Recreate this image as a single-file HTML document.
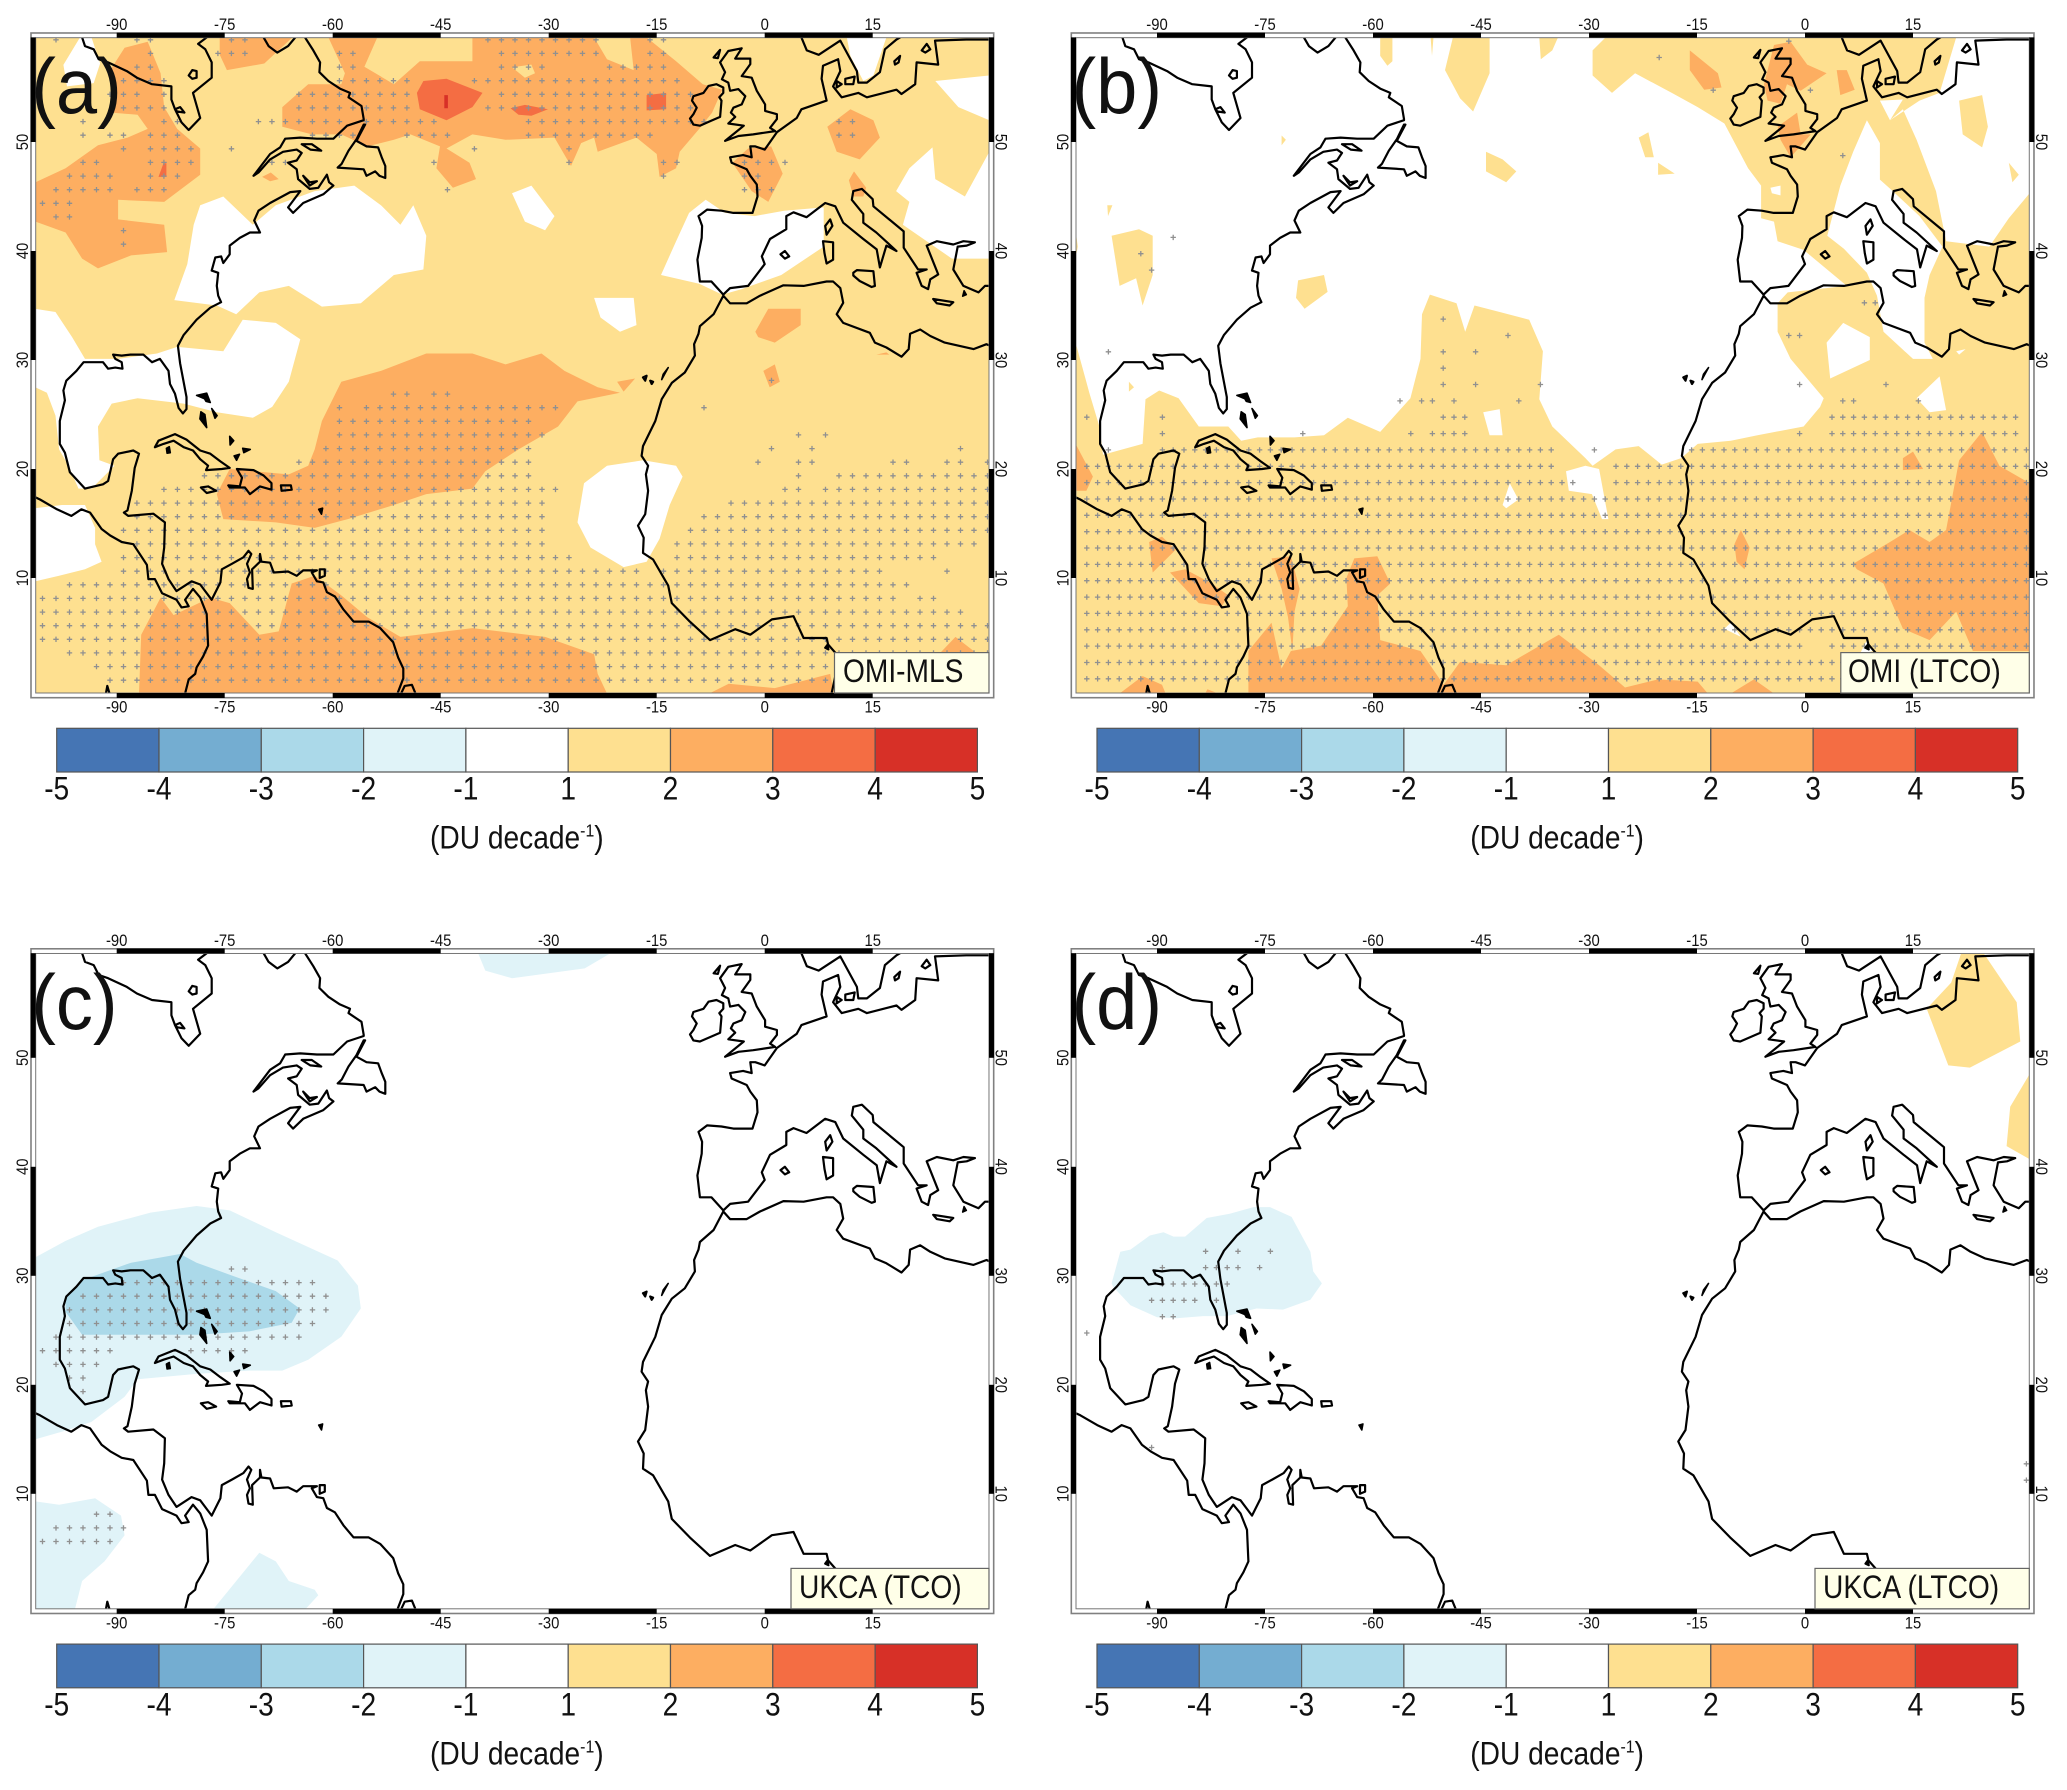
<!DOCTYPE html>
<html lang="en">
<head>
<meta charset="utf-8">
<title>Tropospheric ozone trends maps</title>
<style>
html,body{margin:0;padding:0;background:#fff;}
svg{display:block;}
text{font-family:"Liberation Sans",sans-serif;}
</style>
</head>
<body>
<svg id="figure" xmlns="http://www.w3.org/2000/svg" width="2067" height="1790" viewBox="0 0 2067 1790"><rect width="2067" height="1790" fill="#fff"/></svg>
<script>
/* ---------- axis + colourbar data ---------- */
const lonTicks = [-90,-75,-60,-45,-30,-15,0,15];
const latTicks = [10,20,30,40,50];
const lonBands = [[-90,-75],[-60,-45],[-30,-15],[0,15]];
const latBands = [[59.6,50],[40,30],[20,10]];
const cbLevels = [-5,-4,-3,-2,-1,1,2,3,4,5];
const cbColors = ['#4575b4','#74add1','#abd9e9','#e0f3f8','#ffffff','#fee090','#fdae61','#f46d43','#d73027'];
const LON_MIN=-101.25, LON_MAX=31.15, LAT_MIN=-0.55, LAT_MAX=59.57;

/* ---------- coastline, lon/lat pairs ---------- */
const coastOpen = [
[-94.8,59.6,-94.4,58.8,-93.2,58.5,-92.5,57.6,-91.2,57.3,-88.6,56.5,-87.2,55.9,-85.1,55.3,-82.4,55.1,-82.4,53.9,-81.9,53,-81,51.8,-80,51.1,-78.4,52.2,-79.4,54.5,-76.8,55.9,-76.8,57.3,-77.7,58.5,-78.7,59,-77.5,59.6],
[-69.6,59.6,-68.9,58.8,-67.7,58.2,-66.2,58.8,-65.2,59.6],
[-63.85,59.6,-62.7,58.4,-61.75,57.3,-61.85,56.4,-60.6,55.6,-59,54.9,-57.6,54.5,-57.8,54.1,-56,53.3,-55.7,52.1,-55.7,52,-58,51.5,-59.9,50.3,-62.2,50.3,-64.5,50.4,-66.6,50.3,-67.3,49.5,-68.7,48.9,-71,46.9,-70.3,47.2,-68.7,48.4,-66.9,49.1,-65,49.3,-64.3,49,-65,48.3,-66.2,48.1,-65,47.5,-64.8,46.6,-63.2,45.7,-62,45.8,-60.8,47,-60.5,46.3,-59.9,46,-61.3,45.2,-64.1,44.4,-65.5,43.5,-66.2,44,-64.5,45.5,-65.9,45.4,-68.7,44.4,-70.3,43.7,-70.9,42.8,-70.1,41.7,-71.5,41.7,-72.9,41.2,-74.3,40.5,-74.3,39.7,-75.2,38.9,-75.5,39.5,-76.3,39.4,-76.8,38.2,-75.9,38,-76.1,36.8,-75.9,35.9,-75.5,35.3,-77,34.8,-78.9,33.7,-80.7,32.3,-81.5,31.3,-81.2,29.7,-80.3,26.6,-80.3,25.5,-80.8,25.1,-81.4,25.6,-81.9,26.9,-82.6,27.8,-82.8,29,-84,30.1,-85.1,29.8,-86.3,30.5,-88.1,30.5,-89.3,30.4,-90.5,30.5,-90.2,30.1,-89.3,29.8,-89.2,29.2,-90.2,29.3,-91.2,29.2,-91.9,29.8,-94.6,29.8,-95.6,29,-97,28.1,-97.4,27.2,-97.2,26.3,-97.9,24.4,-97.9,22.3,-97.2,21.5,-96.5,19.7,-94.4,18.2,-91.9,18.6,-91.2,18.9,-90.5,20.9,-89.8,21.4,-87.7,21.7,-86.9,21.4,-87.5,20.1,-87.9,18,-88.5,16.2,-89,16,-88.4,15.7,-84.9,15.9,-83.3,15.1,-83.4,12.8,-83.7,11.3,-82.8,9.9,-81.7,8.8,-79.6,9.7,-78.4,9.4,-76.8,8,-75.6,9.6,-75.4,10.8,-74,11.3,-72.4,11.9,-71.7,12.5,-71.3,12.2,-71.9,11.3,-71.5,10.5,-71.9,9.9,-71.7,9.1,-71.1,9,-71.2,10.8,-70.1,11.5,-70.1,12.2,-69.9,11.5,-68.7,11.4,-68.2,10.5,-66.2,10.6,-65,10.2,-64.1,10.7,-62.2,10.7,-62.9,10.5,-62.2,9.7,-61.3,9.6,-60.8,8.7,-59.7,8.3,-58.5,7.1,-57.1,6,-55,6,-53.4,5.4,-51.6,4.1,-50.9,2.7,-50.2,1.7,-50.2,0.8,-51,-0.6],
[-101.3,17.4,-100.65,17.2,-98.3,16.3,-96.3,15.7,-94.9,16.3,-93.7,16,-92.1,14.5,-90.9,13.9,-89.3,13.3,-87.7,13.1,-85.8,11.2,-85.6,9.9,-84.7,9.9,-83.7,8.6,-81.7,8,-81,7.3,-80,7.4,-80.5,8,-79.4,9,-78.4,8.2,-77.5,6.7,-77.3,3.8,-78,2.8,-78.9,1.8,-79.1,1.2,-80,0.7,-80.5,-0.6],
[-91.5,-0.6,-91.3,0.1,-91,-0.6],
[-50.5,-0.6,-50,0.1,-49,0.2,-48.5,-0.6],
[5.1,59.6,5.85,58.4,7.5,58,10.5,59.3,12.8,56.5,13,55.45,14.2,55.45,16,56.4,16.7,58.5,18.3,59.4,18.8,59.6],
[-4.8,48.6,-4.6,48.1,-2.5,47.5,-2,46.9,-1.1,46.1,-1,45,-1.7,43.5,-4.35,43.5,-6,43.7,-8,43.8,-9.2,43.2,-8.7,42.3,-8.75,41.2,-9.35,39.2,-9,37.2,-7.4,37.2,-5.75,36,-4.8,36.6,-2.3,36.8,0,38.8,-0.4,39.5,0.74,41.1,3,42,3,43.2,4,43.55,5.8,43.1,8.4,44.4,9.8,44.1,10.9,42.6,13.7,41.1,15.55,40.15,16,38.5,16.9,40.5,18.3,40,15.5,41.7,13.7,42.6,13.7,43.4,12.1,44.7,12.3,45.5,13.5,45.7,15,44.75,15.1,44.1,19.3,41.8,19.3,40.3,21.3,38.3,22.5,38.3,21.1,38,21.8,36.8,22.7,36.5,23,37.4,24.1,37.85,22.5,40.5,23.9,40.9,26.2,40.6,27.6,40.9,29.2,40.8,28.05,40.5,26.8,40.4,26.2,38.3,27.6,36.8,29.7,36.2,30.6,36.8,31.3,36.8],
[-4.8,48.6,-3,48.8,-1.8,48.6,-2,49.6,-1.3,49.6,0,49.3,1.7,50.9,4.45,52.2,5.1,53,8.6,53.8,7.9,55.8,8.1,57,10.2,57.6,10.5,56.5,9.5,55.1,10.7,54.1,13,54.5,14.2,54.1,18.3,54.8,19,54.4,20.9,55.3,21.1,57.3,24.1,57.1,23.65,59.3,28,59.4,31.2,59.4],
[-5.75,35.9,-4.8,35.2,-2.5,35.2,-0.65,35.9,2.6,36.85,5.4,36.8,8.6,37.2,9.5,37.2,10.5,36.6,10.9,35.25,10,34.2,10.9,33.4,14.6,32.5,15.3,31.6,16.9,31.15,19,30.3,20,31,20.2,32.4,21.6,32.8,23,32.2,25,31.6,29,31,30.8,31.45,31.3,31.3],
[-5.75,35.9,-7.1,34.2,-9,33.1,-9.2,32.4,-9.8,31.45,-9.7,30.4,-11.1,28.85,-12.9,27.9,-14.3,26.4,-15.2,24.4,-16.9,22.1,-17.1,21.2,-16.2,20.3,-16.5,19.5,-16.2,18,-16.6,15.85,-17.6,14.8,-16.8,13.7,-16.9,12.3,-15.5,11.7,-13.4,9.3,-12.9,7.7,-10.4,6,-7.6,4.3,-4.1,5.3,-2,4.8,1,6.2,4,6.5,5.4,4.5,8.6,4.5,8.8,3.9,10,3,9.9,2,9.8,1,9.3,-0.55]
];
const coastRings = [
[-55.7,51.6,-56.7,50.25,-57.8,49.2,-58.75,48,-59.3,47.65,-55.7,47.5,-55.3,46.9,-54.1,47.3,-53.5,46.9,-52.7,46.7,-52.7,47.8,-53.2,48.6,-53.7,49.5,-55.3,49.6,-56.7,50.1,-55.5,51.6],
[-64.3,49.8,-62.9,49.8,-61.6,49.2,-63.1,49.3],
[-64.1,46.9,-63.2,46.3,-62.2,46.4,-63.2,46],
[-80,56.1,-79.5,56.6,-78.9,56.5,-78.9,55.9,-79.5,55.8],
[-81.9,53,-81.2,53.2,-80.6,52.7,-81.6,52.8],
[-84.7,22,-84.2,22.6,-81.9,23.2,-80.3,22.7,-78.4,21.7,-77,21.4,-75.6,20.7,-74.3,20.1,-75.4,20,-77.6,19.9,-77.3,20.3,-78.4,20.9,-79.4,21.7,-80.7,22,-82.1,22.6,-83.5,22.3],
[-73.3,20,-71,19.9,-69.6,19.4,-68.5,18.7,-68.5,18.1,-70.1,18.4,-71.5,17.7,-72.2,18.3,-74.3,18.3,-74.5,18.5,-72.9,18.4,-72.6,19.2],
[-78.3,18.3,-77.3,18.4,-76.2,18,-77.5,17.8],
[-67.2,18.5,-65.8,18.5,-65.7,18.1,-67.1,18],
[-61.8,10.8,-61.1,10.8,-61.1,10.2,-61.8,10],
[-10.37,52.15,-9.9,51.6,-9,51.5,-7.6,51.9,-6.2,52.3,-6,53.8,-6.3,54.1,-5.75,54.5,-5.75,55,-6.7,55.3,-7.8,55.15,-8.5,54.5,-9.9,54.2,-10.1,53.8,-9.45,53.15,-9.9,52.55],
[-5.5,50.1,-2.9,51.5,-5.05,51.7,-4.1,52.3,-4.7,52.7,-4.35,53.15,-3.2,53.45,-2.7,54.2,-3.65,54.85,-4.8,54.7,-5.05,55.45,-5.95,55.75,-5.5,56.4,-6.2,57.3,-5.05,58.35,-3.2,58.6,-4.1,57.65,-2,57.65,-2,57.15,-3.2,56.05,-1.8,55.9,-1.1,54.7,0.05,53.45,0.05,52.85,1.7,52.55,1.7,52.1,0.75,51.3,1.45,51,-1.6,50.7,-3.65,50.55],
[-7.1,57.75,-6.2,58.45,-6.5,57.7],
[10,55.6,10.7,55.3,10,55],
[11.2,55.8,12.5,56,12.3,55.3,11.2,55.3],
[18,57.4,18.8,57.9,18.6,57.3,18.1,57.1],
[21.8,58.4,22.5,59,23,58.5,22.3,58.2],
[9.1,42.9,9.4,42.3,8.6,41.5,8.4,42.3],
[8.1,40.9,9.5,40.8,9.5,39.2,8.6,38.85,8.3,39.8],
[12.3,38,12.8,38.25,15.1,38.15,15.3,36.8,14.85,36.7,13.2,37.25,12.3,37.75],
[2.2,39.7,2.8,40,3.4,39.5,2.8,39.3],
[23.4,35.6,26.2,35.3,25.7,35,23.9,35.2],
[8.4,3.6,8.7,3.85,8.85,3.45],
[-16.9,28.4,-16.4,28.55,-16.6,28.1],
[-15.9,28.1,-15.5,28,-15.7,27.8]
];
const coastBlobs = [
[-83.1,21.9,-82.7,22.05,-82.55,21.5,-83,21.45],
[-61.95,16.3,-61.4,16.4,-61.55,15.85],
[-78.9,26.75,-77.5,26.95,-77,26.1,-77.6,26.2,-77.8,26.45],
[-78.3,25.25,-77.75,25,-77.5,23.8,-78.45,24.6],
[-76.8,25.55,-76.05,24.9,-76.35,24.65],
[-74.3,23,-73.75,22.6,-74.25,22.2],
[-72.5,21.9,-71.45,21.8,-72.35,21.5],
[-73.7,21.2,-72.95,21.35,-73.35,20.8],
[27.7,36.35,28,36,27.5,35.85],
[-14.3,28.2,-13.4,29.3,-14.1,28.7]
];

/* ---------- panel (a) OMI-MLS contour rings, lon/lat pairs ---------- */
const aWhite = [
[-97.4,57.07,-95.1,59.6,-93.5,59.6,-92.3,57.2,-93.2,55.4,-96.9,55.1],
[-79.3,42.4,-78.4,44.2,-75.2,45,-71.1,42.4,-67.9,44.2,-62.5,45.5,-57,46,-53.3,44.2,-50.6,42.4,-48.8,44.2,-47,41.4,-47.4,38.3,-51.5,37.8,-56.1,35.2,-61.5,34.9,-66.1,36.8,-70.2,36.2,-73.4,34.2,-76.1,35,-82,35.5,-80.2,38.8],
[-101.3,34.7,-98.5,34.4,-96.2,32.1,-94.4,30.1,-89.8,30.1,-84.4,30.6,-81.6,31.2,-75.2,30.8,-72.5,33.7,-67.9,33.4,-64.5,31.9,-66.1,28,-68.4,25.7,-71.1,24.7,-76.1,25.2,-80.7,26,-87.1,26.5,-90.7,26,-92.6,23.9,-92.4,20.8,-90.3,20.3,-93.5,18.2,-95.3,18.2,-96.7,20.3,-98,21.8,-98.5,24.9,-99.7,27,-101.3,27.5],
[-101.3,16.4,-97.6,16.7,-94.4,16.7,-93,14.6,-93,13.1,-92.1,11.5,-94.4,10.8,-98,10.2,-101.3,9.7],
[-35.1,45.3,-32.4,46,-29.2,43.2,-30.5,41.9,-33.3,42.7],
[-23.7,35.7,-18.2,35.7,-17.8,33.2,-20.1,32.6,-22.8,33.9],
[-25.1,18.7,-21.9,20.3,-16.9,20.8,-12.3,20.3,-11.4,19.3,-13.2,16.7,-14.6,13.6,-16.4,11.5,-19.6,11,-24.2,12.8,-26,15.1],
[-14.4,37.8,-12.3,40.9,-10.5,43.5,-8.2,44.7,-5.5,43.5,-1.4,43.2,2.7,43.7,8.2,44,8.2,40.4,2.3,37.8,-3.2,36.5,-5.9,36,-9.1,37],
[18.25,45.5,20.1,47.6,23.3,49.5,23.7,46.6,27.8,45,31.2,49.1,31.2,39.3,26,39.3,21.4,41.4,19.2,42.4,20.1,44.5],
[23.7,55.6,31.2,56.1,31.2,52,26.9,53.2],
[11.4,59.6,16.9,59.6,15.1,56.1,13.7,55.6,11.9,57.9]
];
const aOrange = [
[-88.9,58.65,-85.7,59.2,-83.9,56.3,-83.4,53.2,-81.6,51.2,-78.4,49.4,-78.4,47,-83.4,44.5,-89.8,44.7,-89.8,42.9,-83.4,42.4,-83,39.9,-88,39.6,-92.6,38.4,-94.8,39.3,-97.1,41.7,-101.3,42.7,-101.3,46.3,-97.1,47.6,-92.6,49.7,-88.5,50.4,-85.7,51.2,-87.1,52.5,-90.7,52.7,-90.7,56.8],
[-75.7,59.6,-65.6,59.6,-69.5,57.2,-74.7,56.6,-75.7,58],
[-60.6,59.6,-58.3,56.3,-58.8,55.3,-63.4,55.3,-67,53.2,-67,51.4,-62.9,50.7,-58.8,50.7,-55.2,49.6,-51.5,50.2,-49.2,50.7,-45.1,49.6,-45.6,47.6,-43.3,45.8,-40.1,46.6,-41,48.1,-44.2,49.4,-40.6,50.7,-36,50.2,-29.2,50.4,-26.9,47.8,-25.5,49.9,-23.7,50.4,-23.2,49.1,-17.8,50.4,-15,48.9,-14.6,46.8,-12.3,47.6,-11.8,49.1,-9.1,51.2,-7.3,52.7,-5.9,54.8,-8.6,55.3,-12.3,57.4,-16.4,59.6],
[-4.5,48.1,-2.3,49.4,0.9,49.6,2.5,47.1,0.5,44.5,-1.8,45.5],
[8.7,51.4,11.9,53,15.1,52,16,50.4,13.2,48.4,10,49.1],
[11.7,46.5,12.4,47.3,14.1,45.8,13.7,45,12.3,45],
[-1.3,32.6,0.5,34.7,5,34.7,5,33.2,1.4,31.6,-0.9,32.1],
[-0.2,29,1.4,29.6,2.1,28,0.7,27.5],
[-62.5,21.8,-61.5,24.4,-58.8,28,-53.3,29,-47,30.6,-40.6,30.6,-36,29.6,-31,30.6,-27.8,29,-23.2,27.5,-20.1,27,-26,26.2,-28.7,23.9,-34.2,21.8,-38.8,19.8,-40.6,18.2,-47,17.7,-51.5,16.7,-57.9,15.4,-62.5,14.6,-67.9,15.1,-75.2,15.4,-76.1,17.7,-74.3,20,-66.1,19.5,-63.4,20.3],
[-20.5,28,-18,28.3,-19.6,27.1],
[-86.9,-0.6,-86.6,4.8,-83.9,8.2,-82.1,6.6,-77,8.2,-74.3,7.7,-70.2,4.8,-67.5,5.1,-65.7,9.5,-62.5,10.2,-58.8,8.4,-55.2,6.4,-50.6,4.6,-40.6,5.4,-30.5,4.6,-23.7,3,-23.2,1.2,-21.9,-0.6],
[-7.7,-0.6,-5,0.3,1.4,-0.1,9.1,1.2,9.6,-0.6],
[24.2,3,26.5,4.6,29.6,3],
[15.5,30.5,16.9,30.7,17.3,30.5],
[-69.8,46.8,-68.6,47.2,-67.5,46.6,-68.7,46.4]
];
const aYellowPatch = [
[-53.8,59.6,-55.6,56.9,-51.5,55.3,-47.9,57.4,-40.6,57.4,-40.6,59.6],
[-23.7,59.6,-21.9,57.6,-18.2,56.6,-18.7,59.6],
[-35.1,56.85,-32.4,57.1,-31.9,56.3,-33.3,55.9]
];
const aRed = [
[-48.3,54.5,-47.4,55.6,-44.2,55.8,-39.2,54.5,-40.6,53.2,-44.2,52,-47.9,53],
[-35.3,53.1,-33.3,53.4,-30.1,53,-32.4,52.4,-34.2,52.5],
[-16.4,54.3,-13.7,54.5,-13.7,53,-16.4,52.9],
[-84.2,46.8,-83.5,48.05,-83.1,48.05,-83.1,46.8]
];
const aDarkRed = [[-44.5,54.3,-44,54.3,-44,53.1,-44.5,53.1]];

/* ---------- panel (b) OMI LTCO contour rings ---------- */
const bYellow = [
[-101.3,31.6,-99.4,27,-98,23.9,-97.5,21.3,-92,22.3,-91.6,26.4,-89.7,27.2,-87,26.5,-84.2,23.9,-80.1,23.9,-78.3,22.6,-76,22.9,-70.9,22.9,-66.8,23.1,-63.5,24.7,-59,23.4,-54.8,26.5,-53.4,30.1,-53.2,34.2,-52.1,36,-48.4,35.2,-47.2,32.6,-45.9,35,-42.4,34.4,-38.3,33.7,-36.4,30.8,-36.9,26.4,-35.1,23.9,-30.5,21,-29.5,20.3,-26.3,21.8,-23.1,22.1,-19.9,20.4,-17.2,21,-14.9,22.3,-10.3,22.6,-6.6,23.1,-0.2,23.9,2.1,25.7,2.6,26.5,-2,30.1,-3.8,32.6,-3.8,35.2,-2.4,36.2,5.8,36.8,-0.2,40.1,-3.8,40.9,-4.3,42.7,-6.1,43,-6.1,46,-7.9,47.6,-11.2,51.7,-14.9,53.2,-18.5,54.5,-23.6,56.3,-26.8,54.5,-29.5,56.1,-29.5,58.4,-27.7,59.6,31.2,59.6,31.2,-0.6,-101.3,-0.6],
[-59,59.6,-57.3,59.6,-57.3,57.4,-58,57,-59,57.9],
[-48.9,59.6,-43.8,59.6,-43.8,56.3,-46.1,52.8,-47.9,54,-50,56.6],
[-36.9,59.6,-34.3,59.6,-35.1,58.4,-36.7,57.6],
[-52,59.6,-51.6,59.6,-51.8,57.9],
[-44.3,49.1,-42,48.4,-40.1,47.3,-41.5,46.3,-44.3,47.3],
[-23.1,50.4,-21.75,50.9,-21,48.6,-22.2,48.6],
[-20.4,48.1,-18.1,47.1,-20.4,47],
[-72.7,50.6,-72.1,50.2,-72.7,49.7],
[-96.9,44.2,-96.2,44.2,-96.8,43.2],
[-96.3,41.4,-92.5,42,-90.6,41.4,-90.6,37.8,-92,35,-92.9,37.5,-95.2,36.8],
[-70.4,37.3,-66.8,37.8,-66.3,36.25,-69.5,34.7,-70.7,35.7],
[-93.9,28,-93.2,27.5,-93.9,27.1],
[-101.3,41.9,-101,40.4,-101.3,39.3]
];
const bWhite = [
[8.6,52,10.4,49.9,10.4,46.55,12.2,45.5,15.9,43.2,19.1,40.4,17.3,37.8,16.6,35.7,16.6,31.6,17.75,30.1,15,30.1,10.9,32.6,10,35.9,8.6,38,5.4,40.2,3.1,41.4,4.9,46,6.7,49.1],
[15.9,53.8,18.7,54.5,21,59.6,31.2,59.6,31.2,45.3,28.3,43,25.6,40.4,19.6,40.9,18.2,45.5,15.5,50.2,13.6,53,11.8,52],
[10.4,53.8,13.6,53.9,11.8,52],
[-44.7,25.2,-42.4,25.5,-42,23.1,-43.8,23.1],
[-33.2,19.8,-30.5,20.3,-28.6,20,-27.3,15.4,-28.2,15.4,-29.6,17.7,-32.8,18],
[-42,16.7,-41,18.7,-39.8,17.2,-41.5,16.4],
[-4.8,45.8,-3.4,46,-3.4,45.1,-4.6,45.3],
[3,31.6,5.3,33.4,9,32.1,9,30,3.5,28.3],
[15.5,26.5,18.7,28.5,19.6,25.4,17.3,25.2],
[21,30.8,22.3,31,21.4,30.5],
[-11.2,5.35,-10.3,5.9,-8.9,4.6],
[8.6,4.3,9.5,3.3,7.6,3]
];
const bYellowTop = [
[21.4,53.8,24.6,54.3,25.4,51.4,24.6,49.5,21.9,50.7],
[28.3,48.1,29.7,47,28.8,46.3]
];
const bOrange = [
[6.7,11.3,11.8,13.3,14.5,14.4,17.3,13.3,19.6,14.4,21.4,20.8,24.6,23.4,27,20.3,31.2,18.7,31.2,3.3,23.3,3.3,21,6.9,17.3,4.3,13.6,5.35,10.9,9.5,7.2,10.8],
[-9.8,13.1,-8.9,14.4,-7.7,12.8,-8.4,10.8,-9.5,11.5],
[13.6,21,15,21.6,16.4,20,13.6,19.9],
[-16,58.4,-12.1,56.3,-11.6,55,-14,54.8,-16,56.6],
[-5.7,55.3,-4.3,58.9,-2,59.2,0.3,57.1,3,56.3,-0.6,54.7,-2.5,55.3,-3.4,53.5,-5.2,53.8],
[-3.8,51.4,-1.1,52.7,-0.6,50.7,0.8,50.7,-2,48.6,-3.4,50.2],
[4.4,56.6,5.8,56.6,6.9,54.8,4.9,54.3],
[-101.3,22.3,-98.9,19.3,-99.8,18,-101.3,18],
[-91.1,13.3,-89.3,13.8,-87.4,12.6,-90.6,10.5],
[-88.2,10.5,-86.1,10.8,-82.4,9.5,-80.1,8.4,-81,7.4,-84.2,7.7],
[-74.1,11.8,-71.4,12,-70.2,9,-70.9,6.9,-71.2,3.3,-71.8,6.4,-72.7,9],
[-77.3,-0.6,-77.3,3.3,-74.1,5.9,-72.7,1.7,-71.4,3.3,-67.2,3.8,-63.5,7.4,-63.7,10,-62.6,11.8,-59.4,12,-57.6,9.5,-59.4,8.4,-59,4.3,-53.4,3.3,-50.2,0.2,-47.9,2.3,-41.5,2,-34.2,4.8,-28.6,2,-25,-0.05,-20.4,0.7,-14.9,0.5,-13.5,-0.6],
[-10.3,-0.6,-7.1,0.7,-4.3,-0.6],
[-95.2,-0.6,-92,1,-89.3,0.2,-88.8,-0.6],
[-83.3,-0.6,-83,-0.2,-81.5,-0.6]
];

/* ---------- panels (c) and (d) contour rings ---------- */
const cPaleBlue = [
[-101.3,31.7,-97.1,33.2,-92.6,34.5,-85.3,35.8,-78.9,36.4,-74.3,36,-67.9,34,-59.3,31.4,-56.5,29.1,-56.1,27,-58.8,24.4,-63.4,22.3,-67,21.3,-71.6,21.3,-78.9,21,-87.1,20.5,-88.9,18.9,-93.5,16.6,-97.1,15.8,-101.3,15],
[-101.3,9.3,-98,9,-93,9.6,-89.4,8,-88.9,6.2,-91.7,3.8,-94.8,2,-95.8,-0.6,-101.3,-0.6],
[-76.6,-0.6,-70.2,4.6,-67.9,3.8,-66.1,2,-62.5,1.2,-62,0.7,-63.8,-0.6],
[-39.8,59.6,-21.4,59.6,-25,58.2,-35.1,57.3,-38.8,58]
];
const cMidBlue = [
[-97.1,28,-94.8,29.6,-88,31.2,-81.2,32,-78.9,31.2,-74.3,30.1,-67.9,28.6,-64.6,27,-65.7,25.7,-71.6,24.9,-78.9,24.6,-94.8,24.6,-97.1,26.7]
];
const dPaleBlue = [
[-96.3,29.3,-95.1,32.2,-93.7,32.4,-91,33.7,-89.1,34,-87.7,33.6,-86.1,33.6,-83.1,35.3,-79.9,35.7,-76.6,36.3,-74.3,36.3,-71.3,35.4,-68.7,32.2,-68.3,30.4,-67.1,29.3,-68.7,27.8,-72.5,26.9,-76.2,27,-80.3,26.3,-83.6,26.3,-87.3,26.1,-90,26.2,-93.7,27.3,-96.1,29]
];
const dYellow = [
[21.7,59.6,24.8,59.6,29.4,55.1,29.9,51.5,22.9,49.1,19.9,49.3,16.9,54.5,20.3,56.9],
[31.2,48.5,28.5,45.5,28,41.9,31.2,40.7]
];

/* ---------- significance stippling: [lat, [lonFrom,lonTo], ...] ---------- */
const aStipple = [
[59.375,[-98.4,-98.4],[-87.2,-85.4],[-74.2,-72.3],[-38,-24],[-16,-14]],
[58.125,[-85.4,-85.4],[-76,-72.3],[-59,-57],[-37,-24],[-16,-14]],
[56.875,[-87.2,-85.4],[-59,-57],[-36,-31],[-22,-14]],
[55.625,[-89.1,-83.5],[-60,-50],[-40,-13]],
[54.375,[-91,-87.2],[-83.5,-83.5],[-65,-50],[-37,-10]],
[53.125,[-89.1,-83.5],[-65,-50],[-38,-10]],
[51.875,[-94.7,-94.7],[-83.5,-81.6],[-70.3,-68.5],[-67,-59],[-55,-46],[-33,-8],[10,12]],
[50.625,[-94.7,-94.7],[-91,-89.1],[-85.4,-81.6],[-63,-58],[-50,-44],[-33,-16],[10,12]],
[49.375,[-89.1,-89.1],[-85.4,-79.7],[-74.2,-74.2],[-40,-40],[-28,-28]],
[48.125,[-94.7,-92.9],[-85.4,-79.7],[-68.5,-66.6],[-45.1,-45.1],[-27,-27],[-15,-13],[-3,3]],
[46.875,[-96.6,-91],[-85.4,-81.6],[-14.5,-14.5],[-3,0]],
[45.625,[-98.4,-91],[-87.2,-83.5],[-43.3,-43.3],[-3,1]],
[44.375,[-100.4,-96.6]],
[43.125,[-98.5,-96.7]],
[41.875,[-89.1,-89.1]],
[40.625,[-89.1,-89.1]],
[28.125,[0.9,0.9]],
[26.875,[-51.6,-49.7],[-46,-44.1]],
[25.625,[-59,-59],[-55.4,-29],[-8.5,-8.5]],
[24.375,[-59,-33]],
[23.125,[-59,-31],[4.6,4.6],[8.3,8.3]],
[21.875,[-61,-33],[0.8,0.8],[6.4,6.4],[27.1,27.1]],
[20.625,[-65,-33],[-1,-1],[4.5,6.5],[17.6,19.7],[25.2,27.2],[30.8,30.8]],
[19.375,[-78,-33],[4.6,4.6],[10.2,31]],
[18.125,[-83.6,-29],[2.7,4.6],[8.3,31]],
[16.875,[-87.3,-31],[-4.9,31]],
[15.625,[-87.3,-31],[-8.6,31]],
[14.375,[-89.1,-31],[-10.5,31]],
[13.125,[-87.3,-31],[-12.4,29]],
[11.875,[-89.1,-27.3],[-12.4,23.5]],
[10.625,[-89.1,-17.8],[-14.6,15.9],[25.2,25.2]],
[9.375,[-96.6,19.7]],
[8.125,[-100.4,17.8],[21.5,23.5]],
[6.875,[-100.4,27.2]],
[5.625,[-100.4,31]],
[4.375,[-100.4,31]],
[3.125,[-96.6,31]],
[1.875,[-92.9,9]],
[0.625,[-91,9]]
];
const bStipple = [
[59.25,[-2.25,-2.25]],[57.75,[-20.25,-20.25]],[54.75,[-12.75,-12.75],[0.75,0.75]],[48.75,[5.25,5.25]],
[41.25,[-87.75,-87.75]],[39.75,[-92.25,-92.25]],[38.25,[-90.75,-90.75]],
[35.25,[8.25,9.75]],[33.75,[-50.25,-50.25]],[32.25,[-41.25,-41.25],[-2.25,-0.75]],
[30.75,[-96.75,-96.75],[-50.25,-50.25],[-45.75,-45.75]],
[29.25,[-50.25,-50.25]],
[27.75,[-50.25,-50.25],[-45.75,-45.75],[-36.75,-36.75],[-0.75,-0.75],[11.25,11.25]],
[26.25,[-56.25,-56.25],[-53.25,-51.75],[-48.75,-48.75],[-39.75,-39.75],[5.25,6.75],[15.75,15.75]],
[24.75,[-99.75,-99.75],[-89.25,-89.25],[-50.25,-47.25],[3,29.5]],
[23.25,[-89.25,-89.25],[-69.75,-69.75],[-54.75,-54.75],[-52.5,-47.25],[-0.75,-0.75],[3,29.5]],
[21.75,[-96.75,-96.75],[-89.25,-35],[-29.25,-29.25],[-15.75,31]],
[20.25,[-100.5,-35],[-27,31]],
[18.75,[-100.5,-32],[-27,31]],
[17.25,[-100.5,31]],[15.75,[-100.5,31]],[14.25,[-100.5,31]],[12.75,[-100.5,31]],
[11.25,[-100.5,31]],[9.75,[-100.5,31]],[8.25,[-100.5,31]],[6.75,[-100.5,31]],[5.25,[-100.5,31]],
[3.75,[-100.5,-1],[3,31]],[2.25,[-100.5,31]],[0.75,[-100.5,31]]
];
const cStipple = [
[30.625,[-74.1,-72.2]],
[29.375,[-89.1,-62.8]],
[28.125,[-94.8,-61]],
[26.875,[-96.6,-61]],
[25.625,[-96.6,-62.8]],
[24.375,[-98.5,-64.7]],
[23.125,[-100.4,-91],[-79.8,-72.1]],
[21.875,[-98.5,-92.8]],
[20.625,[-96.6,-94.7]],
[19.375,[-94.7,-94.7]],
[8.125,[-92.8,-90.9]],
[6.875,[-98.5,-89.1]],
[5.625,[-100.3,-90.9]]
];
const dStipple = [
[32.25,[-83.25,-83.25],[-78.75,-78.75],[-74.25,-74.25]],
[30.75,[-89.25,-89.25],[-83.25,-78.75],[-75.75,-75.75]],
[29.25,[-89.25,-80.25]],
[27.75,[-90.75,-84.75],[-81.75,-81.75]],
[26.25,[-89.25,-87.75]],
[24.75,[-99.75,-99.75]],
[14.25,[-90.75,-90.75]],
[12.75,[30.75,30.75]],
[11.25,[30.75,30.75]]
];

/* ---------- panel definitions ---------- */
const panels = [
 {id:'a', tag:'(a)', name:'OMI-MLS', x0:116.7, y0:142, boxLeft:834.5, textX:843, step:[1.875,1.25,0.9375,0.625], stipple:aStipple,
  layers:[[1,[[-101.3,-0.6,31.2,-0.6,31.2,59.6,-101.3,59.6]]],[-1,aWhite],[2,aOrange],[1,aYellowPatch],[3,aRed],[4,aDarkRed]]},
 {id:'b', tag:'(b)', name:'OMI (LTCO)', x0:1157, y0:142, boxLeft:1840.8, textX:1848, step:[1.5,1.5,0.75,0.75], stipple:bStipple,
  layers:[[1,bYellow],[-1,bWhite],[1,bYellowTop],[2,bOrange]]},
 {id:'c', tag:'(c)', name:'UKCA (TCO)', x0:116.7, y0:1057.8, boxLeft:791, textX:799, step:[1.875,1.25,0.9375,0.625], stipple:cStipple,
  layers:[[-2,cPaleBlue],[-3,cMidBlue]]},
 {id:'d', tag:'(d)', name:'UKCA (LTCO)', x0:1157, y0:1057.8, boxLeft:1815, textX:1823, step:[1.5,1.5,0.75,0.75], stipple:dStipple,
  layers:[[-2,dPaleBlue],[1,dYellow]]}
];

/* ---------- drawing ---------- */
const SVGNS='http://www.w3.org/2000/svg';
const root=document.getElementById('figure');
function mk(tag,attrs,parent){
  const e=document.createElementNS(SVGNS,tag);
  for(const k in attrs){e.setAttribute(k,attrs[k]);}
  (parent||root).appendChild(e);
  return e;
}
function label(parent,str,x,y,size,anchor,rot,sx){
  const t=mk('text',{'font-size':size,'text-anchor':anchor||'start',fill:'#111',
    transform:'translate('+x+','+y+')'+(rot?' rotate('+rot+')':'')+' scale('+(sx||0.94)+',1)'},parent);
  t.textContent=str;
  return t;
}
function bandColor(level){return cbColors[cbLevels.indexOf(level)];}

panels.forEach(function(p){
  const X=function(lon){return p.x0+(lon+90)*7.2;};
  const Y=function(lat){return p.y0+(50-lat)*10.9;};
  const left=X(LON_MIN), right=X(LON_MAX), top=Y(LAT_MAX), bottom=Y(LAT_MIN);
  const pathOf=function(flat,close){
    let d='';
    for(let i=0;i<flat.length;i+=2){d+=(i?'L':'M')+X(flat[i]).toFixed(1)+' '+Y(flat[i+1]).toFixed(1);}
    return d+(close?'Z':'');
  };
  const g=mk('g',{});
  
  

  const frame=mk('rect',{x:left-4.7,y:top-4.7,width:right-left+9.4,height:bottom-top+9.4,fill:'#fff',stroke:'#808080','stroke-width':1.6},g);
  
  

  const clipId='clip-'+p.id;
  const cp=mk('clipPath',{id:clipId},g);
  mk('rect',{x:left,y:top,width:right-left,height:bottom-top},cp);

  const field=mk('g',{'clip-path':'url(#'+clipId+')'},g);
  
  
  p.layers.forEach(function(layer){
    let d='';
    layer[1].forEach(function(r){d+=pathOf(r,true);});
    const c=mk('path',{d:d,fill:bandColor(layer[0])},field);
    
    
  });

  /* stippling */
  let sd='';
  const stepLon=p.step[0], offLon=p.step[2];
  p.stipple.forEach(function(row){
    const y=Y(row[0]);
    for(let i=1;i<row.length;i++){
      for(let k=-70;k<30;k++){
        const lon=offLon+k*stepLon;
        if(lon<row[i][0]-stepLon*0.45||lon>row[i][1]+stepLon*0.45){continue;}
        const x=X(lon);
        sd+='M'+(x-2.7).toFixed(1)+' '+y.toFixed(1)+'h5.4M'+x.toFixed(1)+' '+(y-2.7).toFixed(1)+'v5.4';
      }
    }
  });
  const st=mk('path',{d:sd,fill:'none',stroke:'#909090','stroke-width':1.3},field);
  
  

  /* coastline */
  let cd='';
  coastOpen.forEach(function(r){cd+=pathOf(r,false);});
  coastRings.forEach(function(r){cd+=pathOf(r,true);});
  const coast=mk('path',{d:cd,fill:'none',stroke:'#000','stroke-width':2.2,'stroke-linejoin':'round','stroke-linecap':'round'},field);
  
  
  let bd='';
  coastBlobs.forEach(function(r){bd+=pathOf(r,true);});
  const blobs=mk('path',{d:bd,fill:'#000',stroke:'#000','stroke-width':1.6,'stroke-linejoin':'round'},field);
  
  

  const inner=mk('rect',{x:left,y:top,width:right-left,height:bottom-top,fill:'none',stroke:'#777','stroke-width':1},g);
  
  

  /* alternating black frame segments */
  lonBands.forEach(function(b){
    [top-5,bottom].forEach(function(yy){
      const s=mk('rect',{x:X(b[0]),y:yy,width:X(b[1])-X(b[0]),height:5,fill:'#000'},g);
      
      
    });
  });
  latBands.forEach(function(b){
    [left-5,right].forEach(function(xx){
      const s=mk('rect',{x:xx,y:Y(b[0]),width:5,height:Y(b[1])-Y(b[0]),fill:'#000'},g);
      
      
    });
  });

  /* tick labels */
  lonTicks.forEach(function(v){
    const t1=label(g,String(v),X(v),p.y0-112,16.5,'middle',0,0.9);
    
    
    const t2=label(g,String(v),X(v),p.y0+570.7,16.5,'middle',0,0.9);
    
    
  });
  latTicks.forEach(function(v){
    const t1=label(g,String(v),left-7.7,Y(v),16.5,'middle',-90,0.9);
    
    
    const t2=label(g,String(v),right+6.5,Y(v),16.5,'middle',90,0.9);
    
    
  });

  /* panel tag */
  const tag=label(g,p.tag,left-4.5,p.y0-29,78,'start',0,0.95);
  
  

  /* dataset box */
  const boxTop=p.y0+510.6;
  const box=mk('rect',{x:p.boxLeft,y:boxTop,width:right-p.boxLeft,height:bottom-boxTop,fill:'#ffffe8',stroke:'#666','stroke-width':1.2},g);
  
  
  const nm=label(g,p.name,p.textX,p.y0+540,32,'start',0,0.88);
  
  

  /* colourbar */
  const cbLeft=p.x0-60, cbTop=p.y0+586.3, segW=102.3, cbH=43.7;
  const cb=mk('g',{},g);
  
  
  cbColors.forEach(function(col,i){
    const r=mk('rect',{x:cbLeft+i*segW,y:cbTop,width:segW,height:cbH,fill:col,stroke:'#555','stroke-width':1.2},cb);
    
    
  });
  cbLevels.forEach(function(v,i){
    const t=label(cb,String(v),cbLeft+i*segW,p.y0+657.5,32,'middle',0,0.88);
    
    
  });
  const unit=label(cb,'',p.x0+313.3,p.y0+706.5,32,'start',0,0.88);
  unit.innerHTML='(DU decade<tspan dy="-12" font-size="18">-1</tspan><tspan dy="12">)</tspan>';
  
  
});
</script>
</body>
</html>
